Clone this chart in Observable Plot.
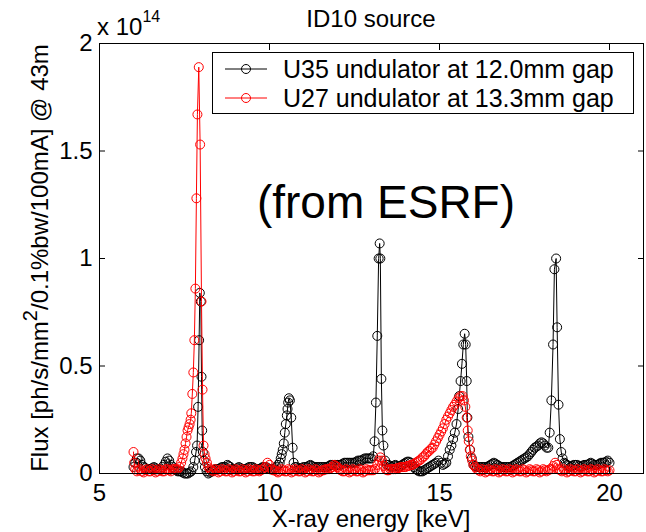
<!DOCTYPE html>
<html><head><meta charset="utf-8">
<script src="https://cdn.jsdelivr.net/npm/d3@7"></script>
<script src="https://cdn.jsdelivr.net/npm/@observablehq/plot@0.6"></script>
<style>html,body{margin:0;padding:0;background:#fff}#chart svg{display:block}</style>
</head><body><div id="chart"></div>
<script>
// ---- Data: [energy keV, flux in units of 1e14 ph/s/mm^2/0.1%bw/100mA] ----
const pointsU35 = [
[6.00,0.03],[6.05,0.05],[6.10,0.07],[6.15,0.07],[6.20,0.06],[6.25,0.04],[6.30,0.03],[6.35,0.025],[6.40,0.02],[6.45,0.02],[6.50,0.02],[6.55,0.025],[6.60,0.03],[6.65,0.025],[6.70,0.02],[6.75,0.02],[6.80,0.02],[6.85,0.03],[6.90,0.04],[6.95,0.055],[7.00,0.07],[7.05,0.06],[7.10,0.04],[7.15,0.03],[7.20,0.02],[7.25,0.015],[7.30,0.01],[7.35,0.01],[7.40,0.01],[7.45,0.005],[7.50,0.00],[7.55,0.00],[7.60,0.00],[7.65,0.005],[7.70,0.01],
[7.76,0.03],[7.80,0.06],[7.84,0.10],[7.87,0.13],[7.90,0.31],[7.93,0.62],[7.95,0.84],[7.98,0.80],[8.00,0.45],[8.02,0.20],[8.04,0.10],[8.07,0.06],[8.10,0.03],[8.15,0.01],[8.20,0.00],
[8.25,0.005],[8.30,0.01],[8.35,0.015],[8.40,0.02],[8.45,0.02],[8.50,0.02],[8.55,0.025],[8.60,0.03],[8.65,0.03],[8.70,0.03],[8.76,0.04],[8.80,0.035],[8.85,0.03],[8.90,0.02],[8.95,0.02],[9.00,0.02],[9.05,0.025],[9.10,0.03],[9.15,0.025],[9.20,0.02],[9.25,0.02],[9.30,0.02],[9.35,0.025],[9.40,0.03],[9.45,0.03],[9.50,0.03],[9.55,0.025],[9.60,0.02],[9.65,0.02],[9.70,0.02],[9.75,0.025],[9.80,0.03],[9.85,0.03],[9.90,0.03],[9.95,0.025],[10.00,0.02],[10.05,0.02],[10.10,0.02],[10.15,0.025],[10.20,0.03],
[10.25,0.04],[10.30,0.05],[10.33,0.07],[10.36,0.09],[10.39,0.11],[10.42,0.14],[10.45,0.19],[10.48,0.23],[10.51,0.27],[10.53,0.30],[10.55,0.33],[10.57,0.35],[10.60,0.34],[10.64,0.26],[10.68,0.12],[10.71,0.05],[10.75,0.03],
[10.80,0.03],[10.85,0.025],[10.90,0.02],[10.95,0.025],[11.00,0.03],[11.05,0.03],[11.10,0.03],[11.15,0.035],[11.20,0.04],[11.25,0.035],[11.30,0.03],[11.35,0.03],[11.40,0.03],[11.45,0.03],[11.50,0.03],[11.55,0.03],[11.60,0.03],[11.65,0.03],[11.70,0.03],[11.75,0.035],[11.80,0.04],[11.85,0.04],[11.90,0.04],[11.95,0.04],[12.00,0.04],[12.05,0.04],[12.10,0.04],[12.15,0.045],[12.20,0.05],[12.25,0.05],[12.30,0.05],[12.35,0.05],[12.40,0.05],[12.45,0.05],[12.50,0.05],[12.55,0.055],[12.60,0.06],[12.65,0.06],[12.70,0.06],[12.75,0.065],[12.80,0.07],[12.85,0.07],[12.90,0.07],[12.95,0.07],[13.00,0.07],
[13.05,0.08],[13.09,0.15],[13.13,0.33],[13.17,0.64],[13.21,1.00],[13.24,1.07],[13.26,1.00],[13.29,0.44],[13.32,0.20],[13.35,0.13],[13.40,0.06],
[13.45,0.04],[13.50,0.04],[13.55,0.035],[13.60,0.03],[13.65,0.035],[13.70,0.04],[13.75,0.035],[13.80,0.03],[13.85,0.035],[13.90,0.04],[13.95,0.045],[14.00,0.05],[14.05,0.055],[14.10,0.055],[14.15,0.05],[14.20,0.04],[14.25,0.03],[14.30,0.02],[14.35,0.015],[14.40,0.01],[14.45,0.01],[14.50,0.01],[14.55,0.015],[14.60,0.02],[14.65,0.025],[14.70,0.03],[14.75,0.035],[14.80,0.04],[14.85,0.045],[14.90,0.05],[14.97,0.06],[15.05,0.05],[15.10,0.04],[15.15,0.045],[15.20,0.05],
[15.25,0.08],[15.30,0.11],[15.35,0.13],[15.40,0.16],[15.45,0.19],[15.50,0.23],[15.55,0.30],[15.58,0.36],[15.62,0.43],[15.66,0.51],[15.70,0.60],[15.74,0.65],[15.77,0.60],[15.80,0.43],[15.82,0.26],[15.85,0.17],[15.90,0.11],[15.95,0.07],
[16.00,0.04],[16.05,0.035],[16.10,0.03],[16.15,0.03],[16.20,0.03],[16.25,0.03],[16.30,0.03],[16.35,0.03],[16.40,0.03],[16.45,0.035],[16.50,0.04],[16.55,0.045],[16.60,0.05],[16.65,0.045],[16.70,0.04],[16.75,0.035],[16.80,0.03],[16.85,0.03],[16.90,0.03],[16.95,0.03],[17.00,0.03],[17.05,0.03],[17.10,0.03],[17.15,0.035],[17.20,0.04],[17.25,0.045],[17.30,0.05],[17.35,0.055],[17.40,0.06],[17.45,0.065],[17.50,0.07],[17.55,0.075],[17.60,0.08],[17.65,0.09],[17.70,0.10],[17.75,0.11],[17.80,0.12],[17.85,0.125],[17.90,0.13],[17.95,0.14],[18.00,0.145],[18.05,0.14],[18.10,0.13],[18.15,0.12],[18.20,0.12],
[18.24,0.19],[18.29,0.34],[18.34,0.60],[18.38,0.95],[18.43,1.00],[18.46,0.68],[18.50,0.32],[18.54,0.16],[18.58,0.10],[18.62,0.07],[18.67,0.05],
[18.70,0.045],[18.75,0.04],[18.80,0.035],[18.85,0.03],[18.90,0.035],[18.95,0.04],[19.00,0.04],[19.05,0.04],[19.10,0.035],[19.15,0.03],[19.20,0.035],[19.25,0.04],[19.30,0.04],[19.35,0.04],[19.40,0.045],[19.45,0.05],[19.50,0.045],[19.55,0.04],[19.60,0.04],[19.65,0.04],[19.70,0.045],[19.75,0.05],[19.80,0.05],[19.85,0.05],[19.90,0.055],[19.95,0.06],[20.00,0.05]
];
const pointsU27 = [
[6.00,0.10],[6.02,0.05],[6.05,0.02],[6.10,0.01],[6.15,0.015],[6.20,0.02],[6.25,0.01],[6.30,0.005],[6.35,0.015],[6.40,0.02],[6.45,0.01],[6.50,0.01],[6.55,0.02],[6.60,0.015],[6.65,0.005],[6.70,0.01],[6.75,0.02],[6.80,0.015],[6.85,0.01],[6.90,0.01],[6.95,0.02],[7.00,0.02],[7.05,0.015],[7.10,0.01],[7.15,0.02],[7.20,0.02],[7.25,0.02],[7.30,0.02],
[7.35,0.03],[7.40,0.05],[7.44,0.07],[7.47,0.09],[7.50,0.11],[7.53,0.14],[7.56,0.17],[7.59,0.20],[7.62,0.215],[7.65,0.23],[7.68,0.25],[7.70,0.28],[7.73,0.37],[7.76,0.47],[7.79,0.62],[7.82,0.86],[7.85,1.28],[7.88,1.67],[7.92,1.89],[7.96,1.53],[8.00,0.80],[8.03,0.39],[8.06,0.13],[8.09,0.09],[8.12,0.07],[8.16,0.05],[8.20,0.03],[8.25,0.02],
[8.30,0.015],[8.35,0.01],[8.40,0.02],[8.45,0.015],[8.50,0.005],[8.55,0.01],[8.60,0.02],[8.65,0.015],[8.70,0.01],[8.75,0.01],[8.80,0.02],[8.85,0.015],[8.90,0.005],[8.95,0.01],[9.00,0.02],[9.05,0.015],[9.10,0.01],[9.15,0.01],[9.20,0.02],[9.25,0.015],[9.30,0.005],[9.35,0.01],[9.40,0.02],[9.45,0.015],[9.50,0.01],[9.55,0.01],[9.60,0.02],[9.65,0.015],[9.70,0.01],[9.75,0.015],[9.80,0.02],
[9.87,0.03],[9.94,0.05],[10.00,0.04],[10.06,0.02],[10.10,0.015],[10.15,0.015],[10.20,0.01],[10.25,0.005],[10.30,0.01],[10.35,0.02],[10.40,0.015],[10.45,0.01],[10.50,0.01],[10.55,0.02],[10.60,0.015],[10.65,0.005],[10.70,0.01],[10.75,0.02],[10.80,0.015],[10.85,0.01],[10.90,0.01],[10.95,0.02],[11.00,0.015],[11.05,0.005],[11.10,0.01],[11.15,0.02],[11.20,0.015],[11.25,0.01],[11.30,0.01],[11.35,0.02],[11.40,0.015],[11.45,0.005],[11.50,0.01],[11.55,0.015],[11.60,0.015],[11.65,0.02],[11.70,0.02],[11.75,0.02],
[11.80,0.025],[11.85,0.03],[11.90,0.04],[11.95,0.035],[12.00,0.03],[12.05,0.02],[12.10,0.015],[12.15,0.01],[12.20,0.01],[12.25,0.02],[12.30,0.015],[12.35,0.005],[12.40,0.01],[12.45,0.02],[12.50,0.015],[12.55,0.01],[12.60,0.01],[12.65,0.02],[12.70,0.015],[12.75,0.005],[12.80,0.01],[12.85,0.02],[12.90,0.015],[12.95,0.015],[13.00,0.015],[13.05,0.015],
[13.10,0.02],[13.17,0.04],[13.22,0.06],[13.26,0.075],[13.31,0.06],[13.36,0.035],[13.42,0.02],[13.46,0.015],[13.50,0.015],[13.55,0.02],[13.60,0.02],[13.65,0.02],[13.70,0.02],[13.75,0.025],[13.80,0.025],[13.85,0.03],[13.90,0.03],[13.95,0.03],
[14.00,0.03],[14.05,0.035],[14.10,0.035],[14.15,0.04],[14.20,0.04],[14.25,0.045],[14.30,0.05],[14.35,0.055],[14.40,0.06],[14.45,0.065],[14.50,0.075],[14.55,0.08],[14.60,0.09],[14.65,0.10],[14.70,0.105],[14.75,0.115],[14.80,0.12],[14.85,0.135],[14.90,0.15],[14.95,0.165],[15.00,0.18],[15.05,0.195],[15.10,0.21],[15.15,0.23],[15.20,0.25],[15.25,0.265],[15.30,0.28],[15.35,0.295],[15.40,0.31],[15.45,0.32],[15.50,0.335],[15.56,0.35],[15.62,0.36],[15.68,0.36],[15.72,0.34],[15.76,0.31],[15.80,0.26],[15.83,0.20],[15.86,0.15],[15.89,0.11],[15.92,0.08],[15.96,0.06],[16.00,0.04],[16.05,0.03],[16.10,0.02],
[16.15,0.015],[16.20,0.01],[16.25,0.02],[16.30,0.015],[16.35,0.005],[16.40,0.01],[16.45,0.02],[16.50,0.015],[16.55,0.01],[16.60,0.01],[16.65,0.02],[16.70,0.015],[16.75,0.005],[16.80,0.01],[16.85,0.02],[16.90,0.015],[16.95,0.01],[17.00,0.01],[17.05,0.02],[17.10,0.015],[17.15,0.005],[17.20,0.01],[17.25,0.02],[17.30,0.015],[17.35,0.01],[17.40,0.01],[17.45,0.02],[17.50,0.015],[17.55,0.005],[17.60,0.01],[17.65,0.02],[17.70,0.015],[17.75,0.01],[17.80,0.01],[17.85,0.02],[17.90,0.015],[17.95,0.005],[18.00,0.01],[18.05,0.02],[18.10,0.015],[18.15,0.01],[18.20,0.015],[18.25,0.02],
[18.30,0.02],[18.35,0.035],[18.40,0.05],[18.45,0.04],[18.50,0.02],
[18.55,0.015],[18.60,0.01],[18.65,0.02],[18.70,0.015],[18.75,0.005],[18.80,0.01],[18.85,0.02],[18.90,0.015],[18.95,0.01],[19.00,0.01],[19.05,0.02],[19.10,0.015],[19.15,0.005],[19.20,0.01],[19.25,0.02],[19.30,0.015],[19.35,0.01],[19.40,0.01],[19.45,0.02],[19.50,0.015],[19.55,0.005],[19.60,0.01],[19.65,0.02],[19.70,0.015],[19.75,0.01],[19.80,0.01],[19.85,0.02],[19.90,0.015],[19.95,0.01],[20.00,0.015]
];

const seriesNames = ["U35 undulator at 12.0mm gap", "U27 undulator at 13.3mm gap"];
const seriesColors = ["#000000", "#ff0000"];
const xTicks = [5, 10, 15, 20];
const yTicks = [0, 0.5, 1, 1.5, 2];
const yTickLabels = ["0", "0.5", "1", "1.5", "2"];
const xDomain = [5, 21];
const yDomain = [0, 2];
const titleText = "ID10 source";
const xLabelText = "X-ray energy [keV]";
const yLabelParts = ["Flux [ph/s/mm", "2", "/0.1%bw/100mA] @ 43m"];
const exponentText = ["x 10", "14"];
const noteText = "(from ESRF)";

// ---- Build ----
const u35 = pointsU35.map(([e, f]) => ({energy: e, flux: f}));
const u27 = pointsU27.map(([e, f]) => ({energy: e, flux: f}));
const FONT = "'Liberation Sans', Arial, Helvetica, sans-serif";

const plot = Plot.plot({
  width: 646, height: 532,
  marginLeft: 99, marginRight: 3, marginTop: 43, marginBottom: 59,
  style: {fontFamily: FONT, fontSize: "24px", color: "#000", background: "#fff"},
  x: {domain: xDomain},
  y: {domain: yDomain},
  marks: [
    Plot.line(u35, {x: "energy", y: "flux", stroke: seriesColors[0], strokeWidth: 1}),
    Plot.dot(u35, {x: "energy", y: "flux", stroke: seriesColors[0], r: 4.5, strokeWidth: 1}),
    Plot.line(u27, {x: "energy", y: "flux", stroke: seriesColors[1], strokeWidth: 1}),
    Plot.dot(u27, {x: "energy", y: "flux", stroke: seriesColors[1], r: 4.5, strokeWidth: 1}),
    Plot.frame({stroke: "#000", strokeWidth: 1}),
    Plot.axisX(xTicks, {anchor: "bottom", tickSize: -6, fill: "none", label: null}),
    Plot.axisX(xTicks, {anchor: "top", tickSize: -6, fill: "none", label: null}),
    Plot.axisX(xTicks, {anchor: "bottom", tickSize: 0, tickPadding: 10, label: null, tickFormat: d => String(d)}),
    Plot.axisY(yTicks, {anchor: "left", tickSize: -6, fill: "none", label: null}),
    Plot.axisY(yTicks, {anchor: "right", tickSize: -6, fill: "none", label: null}),
    Plot.axisY(yTicks, {anchor: "left", tickSize: 0, tickPadding: 7, label: null, tickFormat: d => yTickLabels[yTicks.indexOf(d)]})
  ]
});
document.getElementById("chart").appendChild(plot);

// ---- Annotations ----
const svg = d3.select(plot);
const g = svg.append("g").attr("font-family", FONT).attr("fill", "#000");
g.append("text").attr("x", 371).attr("y", 27).attr("text-anchor", "middle").attr("font-size", 24).text(titleText);
g.append("text").attr("x", 371).attr("y", 527).attr("text-anchor", "middle").attr("font-size", 24).text(xLabelText);
const yl = g.append("text").attr("transform", "translate(48,258) rotate(-90)").attr("text-anchor", "middle").attr("font-size", 24);
yl.append("tspan").text(yLabelParts[0]);
yl.append("tspan").attr("dy", -11).attr("font-size", 20).text(yLabelParts[1]);
yl.append("tspan").attr("dy", 11).text(yLabelParts[2]);
const ex = g.append("text").attr("x", 97).attr("y", 35).attr("text-anchor", "start").attr("font-size", 24);
ex.append("tspan").text(exponentText[0]);
ex.append("tspan").attr("dy", -13).attr("font-size", 16).text(exponentText[1]);
g.append("text").attr("x", 386).attr("y", 218).attr("text-anchor", "middle").attr("font-size", 46).text(noteText);

// legend
const lg = svg.append("g").attr("font-family", FONT);
lg.append("rect").attr("x", 212.5).attr("y", 52.5).attr("width", 421).attr("height", 61).attr("fill", "#fff").attr("stroke", "#000");
seriesNames.forEach((name, i) => {
  const yy = 69 + i * 29;
  lg.append("line").attr("x1", 225).attr("x2", 267).attr("y1", yy).attr("y2", yy).attr("stroke", seriesColors[i]);
  lg.append("circle").attr("cx", 246).attr("cy", yy).attr("r", 4.5).attr("fill", "none").attr("stroke", seriesColors[i]);
  lg.append("text").attr("x", 283).attr("y", yy).attr("dy", "0.35em").attr("text-anchor", "start").attr("font-size", 25).attr("fill", "#000").text(name);
});
</script>
</body></html>
